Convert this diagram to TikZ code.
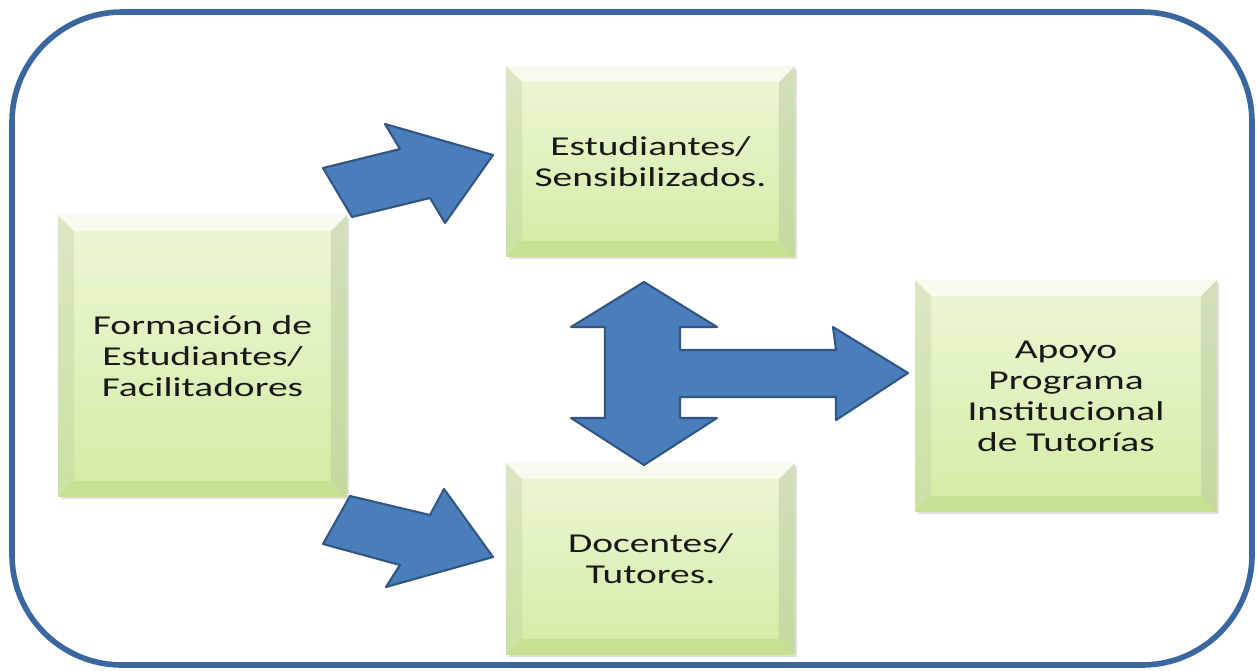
\documentclass[tikz,border=0pt]{standalone}
\usepackage{fontspec}
\newfontfamily\boxfont{Carlito}[FakeStretch=1.45]
\usetikzlibrary{shadows}

\definecolor{framecol}{RGB}{58,103,160}
\definecolor{arrowfill}{RGB}{74,126,187}
\definecolor{arrowline}{RGB}{50,86,132}
\definecolor{facetop}{RGB}{236,246,214}
\definecolor{facebot}{RGB}{212,236,164}
\definecolor{bevleft}{RGB}{190,205,160}
\definecolor{bevright}{RGB}{175,190,150}
\definecolor{bevbot}{RGB}{180,212,120}

\tikzset{
  stage/.style={minimum width=5.78cm, minimum height=#1, inner sep=0pt,
    top color=facetop, bottom color=facebot, align=center,
    font=\boxfont\fontsize{15.5}{17.6}\selectfont, text=black!90,
    drop shadow={shadow xshift=0.05cm, shadow yshift=-0.05cm, opacity=0.25},
    path picture={
      \fill[white,opacity=0.6] (path picture bounding box.north west) -- (path picture bounding box.north east)
        -- ([xshift=-0.32cm,yshift=-0.32cm]path picture bounding box.north east)
        -- ([xshift=0.32cm,yshift=-0.32cm]path picture bounding box.north west) -- cycle;
      \fill[bevleft,opacity=0.35] (path picture bounding box.north west) -- (path picture bounding box.south west)
        -- ([xshift=0.32cm,yshift=0.32cm]path picture bounding box.south west)
        -- ([xshift=0.32cm,yshift=-0.32cm]path picture bounding box.north west) -- cycle;
      \fill[bevright,opacity=0.4] (path picture bounding box.north east) -- (path picture bounding box.south east)
        -- ([xshift=-0.32cm,yshift=0.32cm]path picture bounding box.south east)
        -- ([xshift=-0.32cm,yshift=-0.32cm]path picture bounding box.north east) -- cycle;
      \fill[bevbot,opacity=0.45] (path picture bounding box.south west) -- (path picture bounding box.south east)
        -- ([xshift=-0.32cm,yshift=0.32cm]path picture bounding box.south east)
        -- ([xshift=0.32cm,yshift=0.32cm]path picture bounding box.south west) -- cycle;
    }},
  blockarrow/.style={fill=arrowfill, draw=arrowline, line width=1.2pt, line join=round},
  frame/.style={draw=framecol, line width=3.2pt, rounded corners=2.2cm}
}

\begin{document}
\begin{tikzpicture}[x=0.02cm,y=-0.02cm]
\useasboundingbox (0,0) rectangle (1257,670);
\draw[frame] (12,12) rectangle (1252,665);

\node[stage=5.64cm] (formacion) at (202.5,356) {Formación de\\Estudiantes/\\Facilitadores};
\node[stage=3.82cm] (sensib) at (650.5,161.5) {Estudiantes/\\Sensibilizados.};
\node[stage=3.84cm] (docentes) at (650.5,559) {Docentes/\\Tutores.};
\node[stage=4.64cm, minimum width=6.04cm] (apoyo) at (1066,396) {Apoyo\\Programa\\Institucional\\de Tutorías};

% arrows
\draw[blockarrow] (323,168) -- (400,149) -- (385,124) -- (493,155) -- (445,223) -- (430,198) -- (352,217) -- cycle;
\draw[blockarrow] (350,496) -- (430,515) -- (444,489) -- (493,557) -- (386,587) -- (400,565) -- (323,544) -- cycle;
\draw[blockarrow] (644,282) -- (717,327) -- (680,327) -- (680,350) -- (836,350) -- (833,327) -- (908,373)
  -- (836,420) -- (836,397) -- (680,397) -- (680,418) -- (717,418) -- (644,465) -- (571,418)
  -- (605,418) -- (605,327) -- (571,327) -- cycle;
\end{tikzpicture}
\end{document}
